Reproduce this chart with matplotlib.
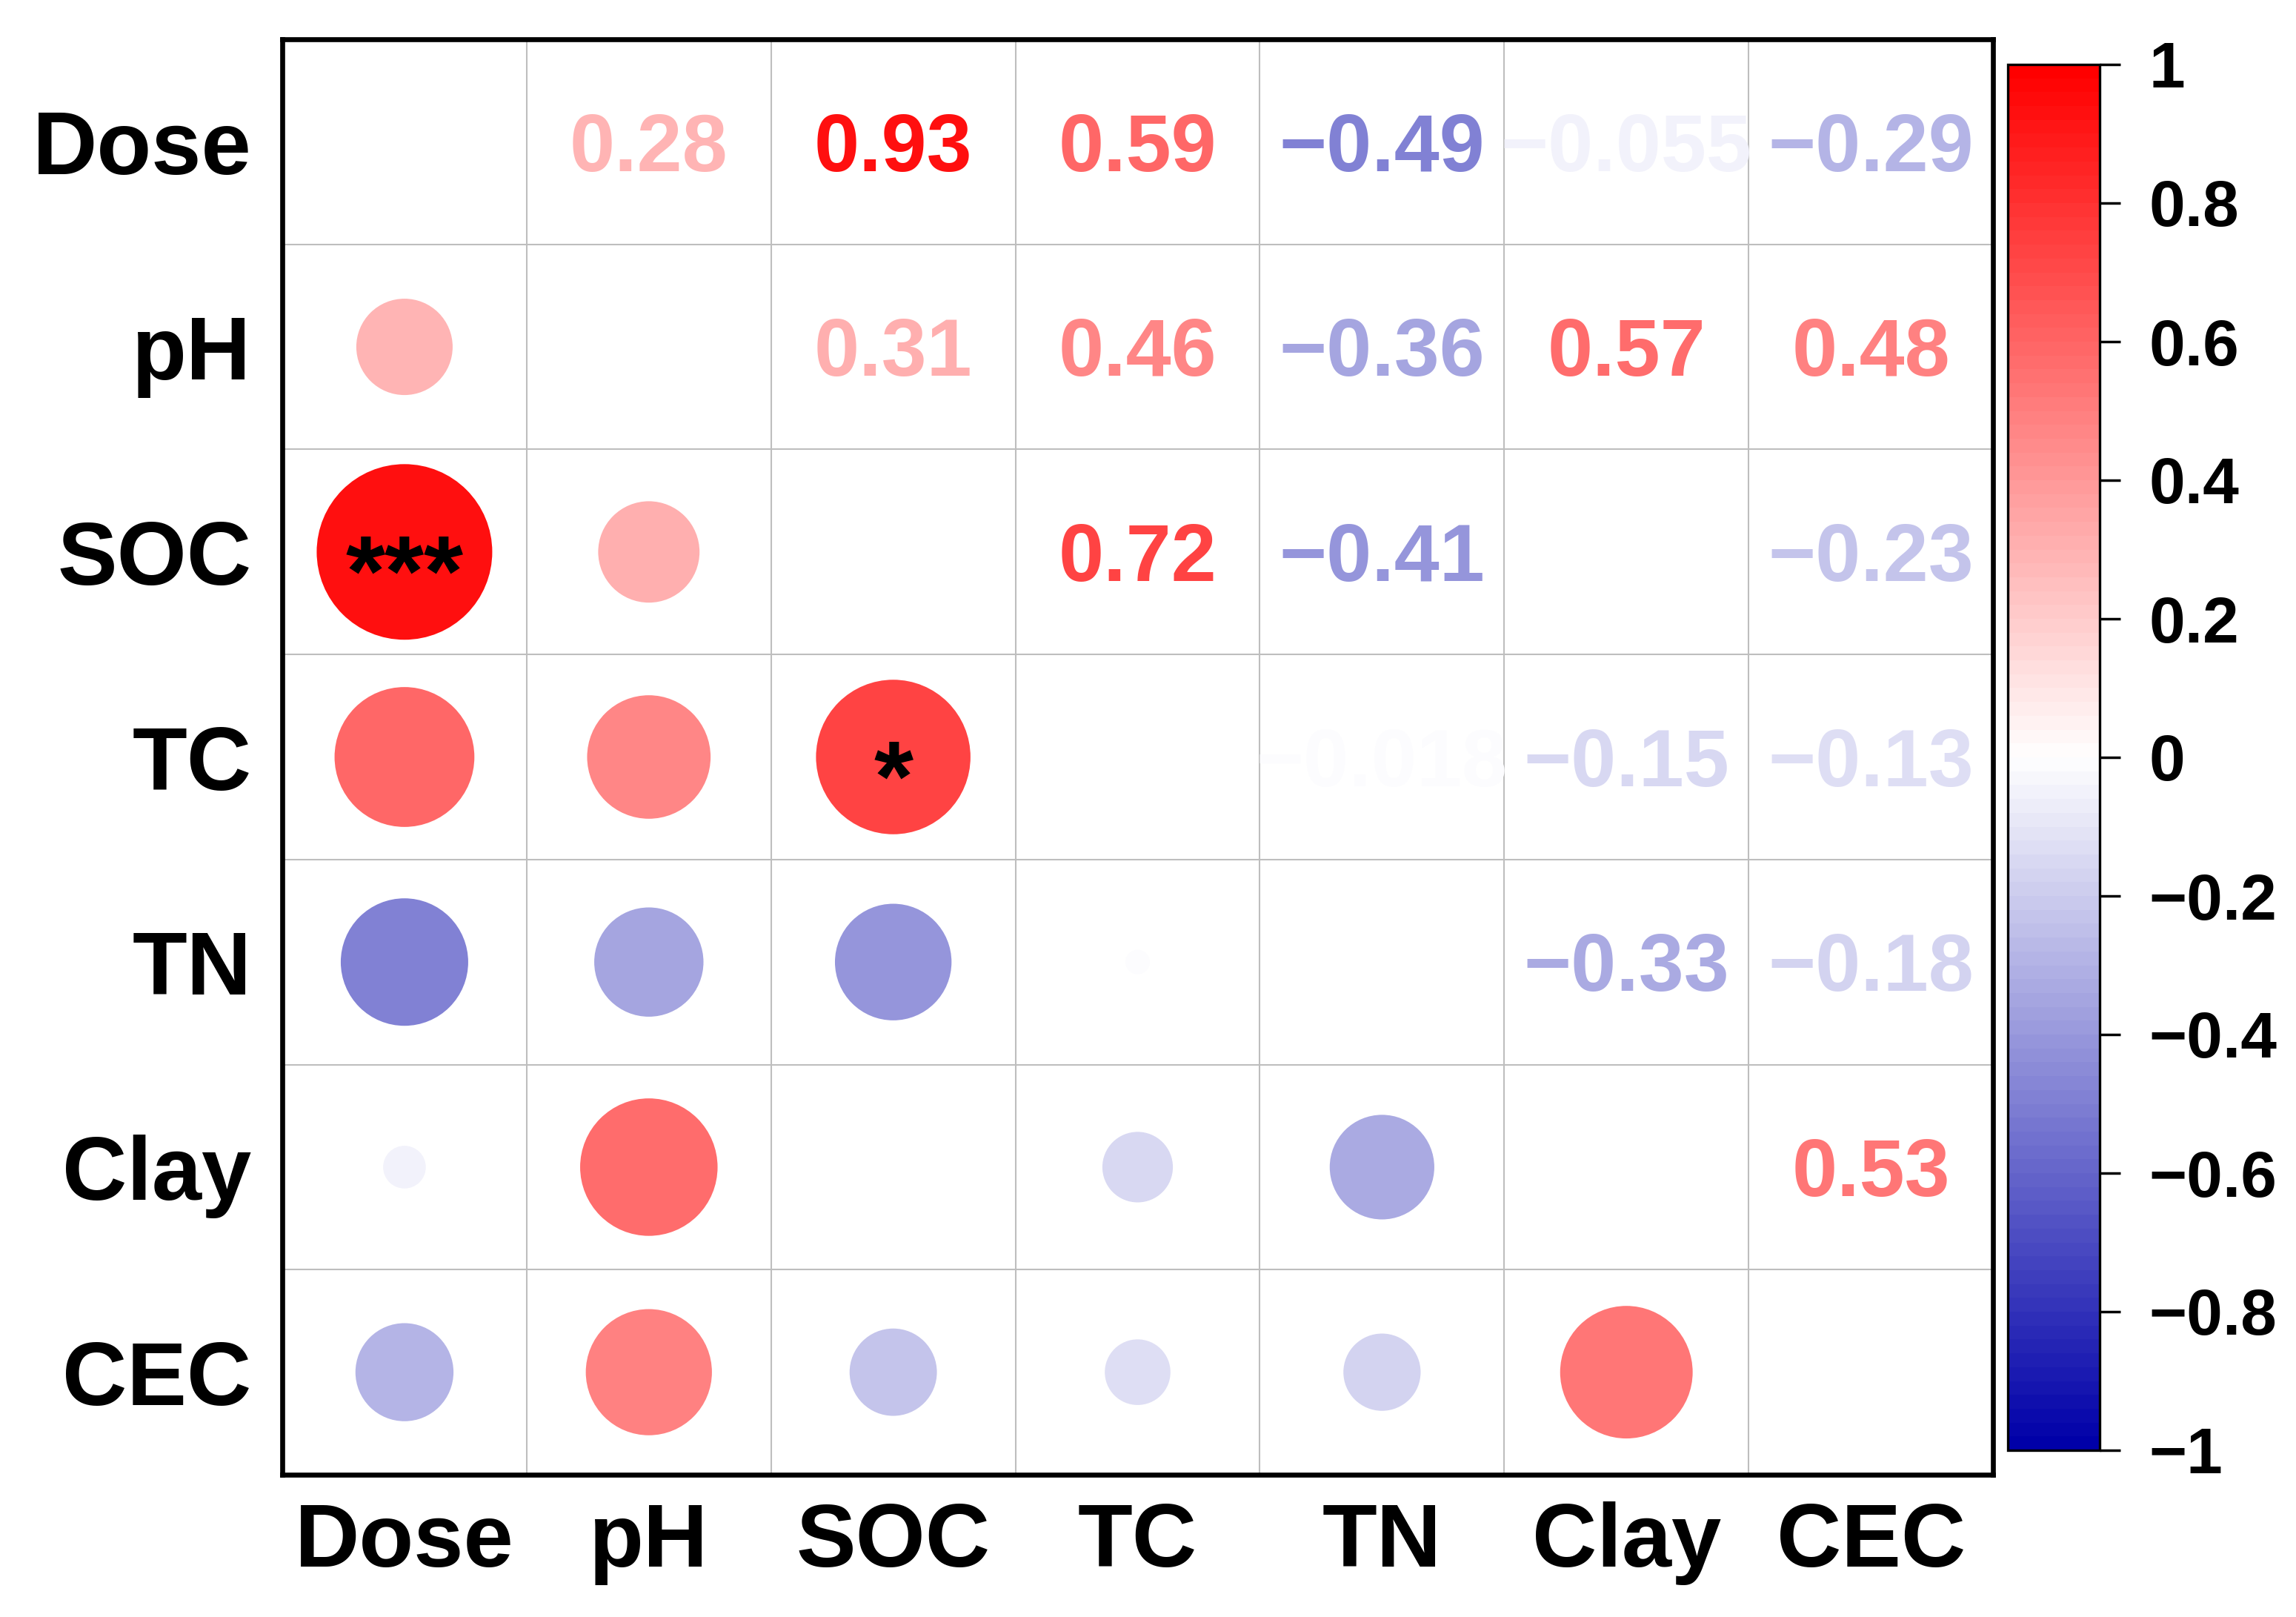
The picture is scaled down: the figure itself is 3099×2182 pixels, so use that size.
"""
corrplot 風の相関行列（下三角 = 円、上三角 = 数値）
"""
import numpy as np
import matplotlib
matplotlib.use("Agg")
import matplotlib.pyplot as plt
from matplotlib.colors import LinearSegmentedColormap, Normalize

plt.rcParams["font.family"] = ["Liberation Sans", "DejaVu Sans"]
plt.rcParams["font.weight"] = "bold"

# --- data -------------------------------------------------------------
variables = ["Dose", "pH", "SOC", "TC", "TN", "Clay", "CEC"]

corr = [
    [1.0,    0.28,  0.93,  0.59,  -0.49,  -0.055, -0.29],
    [0.28,   1.0,   0.31,  0.46,  -0.36,   0.57,   0.48],
    [0.93,   0.31,  1.0,   0.72,  -0.41,   0.0,   -0.23],
    [0.59,   0.46,  0.72,  1.0,   -0.018, -0.15,  -0.13],
    [-0.49, -0.36, -0.41, -0.018,  1.0,   -0.33,  -0.18],
    [-0.055, 0.57,  0.0,  -0.15,  -0.33,   1.0,    0.53],
    [-0.29,  0.48, -0.23, -0.13,  -0.18,   0.53,   1.0],
]

# significance marks in the lower triangle (row, col, label)
sig_rows = [2, 3]
sig_cols = [0, 2]
sig_labels = ["***", "*"]

cbar_ticks = [-1, -0.8, -0.6, -0.4, -0.2, 0, 0.2, 0.4, 0.6, 0.8, 1]

# --- style ------------------------------------------------------------
cmap = LinearSegmentedColormap.from_list(
    "bwr_corr", ["#0000A8", "#FFFFFF", "#FF0000"], N=100)
norm = Normalize(-1, 1)


def fmt(v):
    return f"{v:.2g}".replace("-", "\u2212")


W, H, DPI = 3099, 2182, 100
fig = plt.figure(figsize=(W / DPI, H / DPI), dpi=DPI)

left, right, top, bottom = 381, 2690, 53, 1990
ax = fig.add_axes([left / W, 1 - bottom / H, (right - left) / W, (bottom - top) / H])

n = len(variables)
M = np.array(corr)
ax.set_xlim(-0.5, n - 0.5)
ax.set_ylim(n - 0.5, -0.5)

# grid
for k in range(1, n):
    ax.axvline(k - 0.5, color="#BEBEBE", lw=1.5, zorder=1)
    ax.axhline(k - 0.5, color="#BEBEBE", lw=1.5, zorder=1)

# lower triangle: circles (area ∝ |r|)
rows, cols = np.tril_indices(n, k=-1)
vals = M[rows, cols]
ax.scatter(cols, rows, s=31300 * np.abs(vals), c=vals, cmap=cmap, norm=norm,
           marker="o", linewidths=0, zorder=2)

# upper triangle: numbers
num_fs = 79
for i in range(n):
    for j in range(i + 1, n):
        v = M[i, j]
        if v == 0:
            continue
        ax.annotate(fmt(v), (j, i), xytext=(0, -0.358 * num_fs),
                    textcoords="offset points", ha="center", va="baseline",
                    fontsize=num_fs, fontweight="bold",
                    color=cmap(norm(v)), zorder=3)

# significance stars
for r, c, lab in zip(sig_rows, sig_cols, sig_labels):
    ax.annotate(lab, (c, r), xytext=(0, -52), textcoords="offset points",
                ha="center", va="baseline", fontsize=98, fontweight="bold",
                color="black", zorder=4)

ax.set_xticks(range(n))
ax.set_yticks(range(n))
ax.set_xticklabels(variables, fontsize=87, fontweight="bold")
ax.set_yticklabels(variables, fontsize=87, fontweight="bold")
ax.tick_params(length=0)
ax.tick_params(axis="x", pad=26)
ax.tick_params(axis="y", pad=30)
for sp in ax.spines.values():
    sp.set_linewidth(4.8)

# colorbar
cax = fig.add_axes([2710 / W, 1 - 1957 / H, 124 / W, (1957 - 87) / H])
sm = plt.cm.ScalarMappable(norm=norm, cmap=cmap)
cb = fig.colorbar(sm, cax=cax, ticks=cbar_ticks)
cb.ax.set_yticklabels([fmt(t) if t != 0 else "0" for t in cbar_ticks],
                      fontsize=63, fontweight="bold")
cb.ax.tick_params(length=20, width=2.5, pad=28)
cb.outline.set_linewidth(2.4)

fig.savefig("out.png", dpi=DPI)
